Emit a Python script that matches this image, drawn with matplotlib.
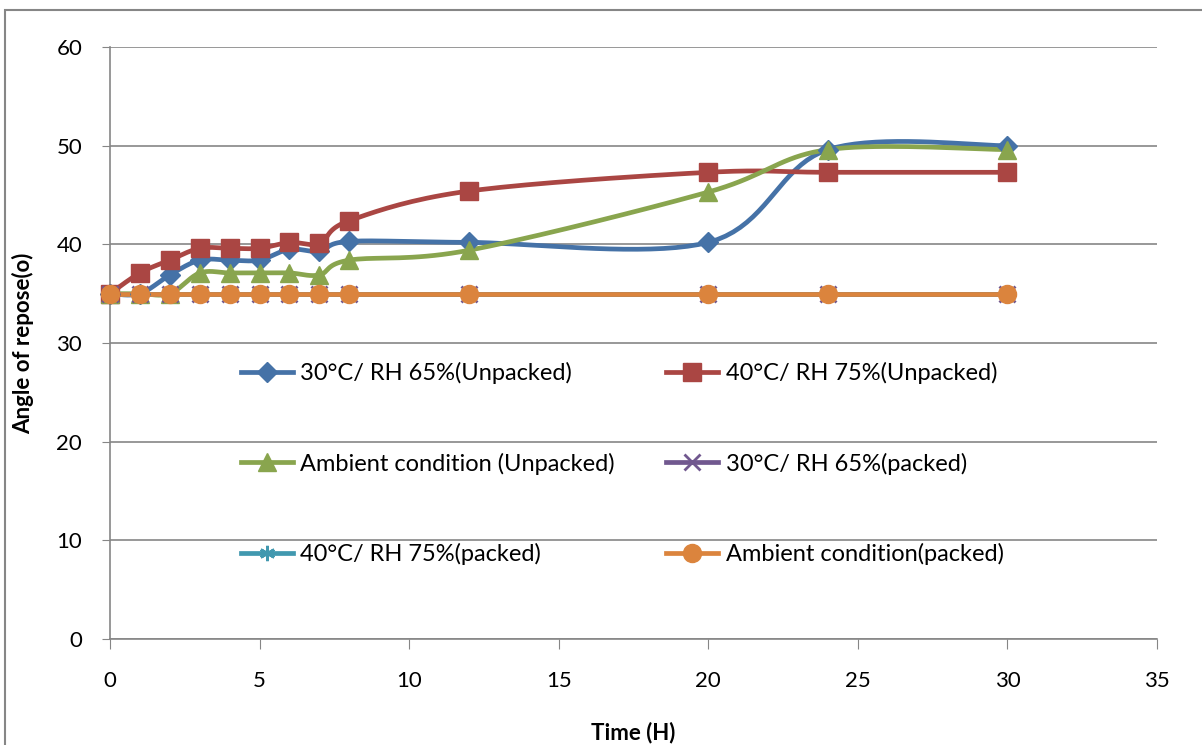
import numpy as np
import matplotlib.pyplot as plt
from matplotlib.patches import Rectangle

plt.rcParams['font.family'] = ['Lato', 'DejaVu Sans']

time_h = [0, 1, 2, 3, 4, 5, 6, 7, 8, 12, 20, 24, 30]

unpacked_30 = [35, 35, 36.9, 38.4, 38.4, 38.4, 39.5, 39.3, 40.3, 40.2, 40.2, 49.6, 50]
unpacked_40 = [35, 37.1, 38.4, 39.6, 39.6, 39.6, 40.2, 40.1, 42.4, 45.4, 47.3, 47.3, 47.3]
unpacked_amb = [35, 35, 35, 37.1, 37.1, 37.1, 37.1, 36.9, 38.4, 39.4, 45.3, 49.6, 49.6]
packed_30 = [35] * 13
packed_40 = [35] * 13
packed_amb = [35] * 13

labels = ['30°C/ RH 65%(Unpacked)', '40°C/ RH 75%(Unpacked)',
          'Ambient condition (Unpacked)', '30°C/ RH 65%(packed)',
          '40°C/ RH 75%(packed)', 'Ambient condition(packed)']
colors = ['#4572A7', '#AA4643', '#89A54E', '#71588F', '#4198AF', '#DB843D']
markers = ['D', 's', '^', 'x', (6, 2, 0), 'o']
msizes = [10, 13, 13, 11, 11, 13]


def smooth(x, y, n=20):
    # catmull-rom style curve through the points, like excel "smoothed line"
    x = np.asarray(x, float)
    y = np.asarray(y, float)
    xs, ys = [], []
    for i in range(len(x) - 1):
        p0 = (x[max(i - 1, 0)], y[max(i - 1, 0)])
        p1 = (x[i], y[i])
        p2 = (x[i + 1], y[i + 1])
        p3 = (x[min(i + 2, len(x) - 1)], y[min(i + 2, len(x) - 1)])
        c1 = (p1[0] + (p2[0] - p0[0]) / 6, p1[1] + (p2[1] - p0[1]) / 6)
        c2 = (p2[0] - (p3[0] - p1[0]) / 6, p2[1] - (p3[1] - p1[1]) / 6)
        t = np.linspace(0, 1, n)
        b = [(1 - t) ** 3, 3 * (1 - t) ** 2 * t, 3 * (1 - t) * t ** 2, t ** 3]
        xs.append(b[0] * p1[0] + b[1] * c1[0] + b[2] * c2[0] + b[3] * p2[0])
        ys.append(b[0] * p1[1] + b[1] * c1[1] + b[2] * c2[1] + b[3] * p2[1])
    return np.concatenate(xs), np.concatenate(ys)


fig = plt.figure(figsize=(12.02, 7.45), dpi=100)
ax = fig.add_axes([110 / 1202, 1 - 639 / 745, 1047 / 1202, 592 / 745])

series = [unpacked_30, unpacked_40, unpacked_amb, packed_30, packed_40, packed_amb]
handles = []
for vals, lab, c, m, ms in zip(series, labels, colors, markers, msizes):
    sx, sy = smooth(time_h, vals)
    ax.plot(sx, sy, color=c, lw=3.4, solid_capstyle='round', zorder=3,
            clip_on=False)
    ax.plot(time_h, vals, ls='none', marker=m, ms=ms, color=c, clip_on=False,
            mec=c, mew=2 if m in ('x', (6, 2, 0)) else 1, zorder=4)
    h, = ax.plot([], [], color=c, lw=3.4, marker=m, ms=ms, mec=c,
                 mew=2 if m in ('x', (6, 2, 0)) else 1)
    handles.append(h)

ax.set_xlim(0, 35)
ax.set_ylim(0, 60)
ax.set_xticks(range(0, 36, 5))
ax.set_yticks(range(0, 61, 10))
ax.grid(axis='y', color='#868686', lw=1.2)
ax.set_axisbelow(True)
for s in ['top', 'right']:
    ax.spines[s].set_visible(False)
for s in ['left', 'bottom']:
    ax.spines[s].set_color('#868686')
    ax.spines[s].set_linewidth(1.2)
ax.tick_params(axis='x', direction='out', length=7, color='#868686',
               labelsize=16, pad=16)
ax.tick_params(axis='y', direction='out', length=6, color='#868686',
               labelsize=16, pad=14)

ax.set_xlabel('Time (H)', fontsize=16, fontweight='bold', labelpad=22)
ax.set_ylabel('Angle of repose(o)', fontsize=16, fontweight='bold', labelpad=16)

# legend is filled row by row in the original
order = [0, 2, 4, 1, 3, 5]
ax.legend(handles=[handles[i] for i in order], labels=[labels[i] for i in order],
          ncol=2, loc='upper left',
          bbox_to_anchor=(0.125, 0.468), frameon=False, fontsize=17,
          labelspacing=2.9, columnspacing=2.2, handlelength=2.2,
          handletextpad=0.3, borderpad=0, borderaxespad=0)

fig.patches.append(Rectangle((5 / 1202, -0.05), 1.1, 1 - 10 / 745 + 0.05,
                             transform=fig.transFigure, fill=False,
                             edgecolor='#868686', lw=1.5))

fig.savefig('out.png', dpi=100)
